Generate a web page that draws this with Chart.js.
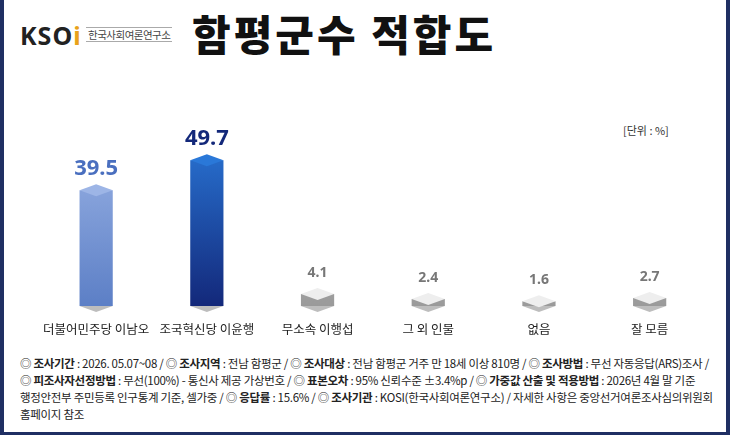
<!DOCTYPE html>
<html><head><meta charset="utf-8">
<script src="https://cdn.jsdelivr.net/npm/chart.js@4"></script>
<style>
body{margin:0;width:730px;height:435px;overflow:hidden;font-family:"Noto Sans CJK KR",sans-serif;background:#fff}
#frame{position:absolute;left:0;top:0;width:730px;height:435px;box-sizing:border-box;border-left:4px solid #1f2f63;border-right:4px solid #1f2f63;border-bottom:3px solid #1f2f63}
#logo{position:absolute;left:20px;top:18px;font-family:"Noto Sans";font-weight:700;font-size:25px;color:#222;letter-spacing:1px}
#logo span{color:#e8a21a}
#logosub{position:absolute;left:86px;top:27px;font-size:10.5px;color:#444;border-top:1px solid #aaa;border-bottom:1px solid #aaa;padding:0 2px;line-height:13px;letter-spacing:-0.5px}
#title{position:absolute;left:192px;top:2px;font-size:42px;font-weight:900;color:#111;letter-spacing:3px}
#unit{position:absolute;left:623px;top:122px;font-size:11px;color:#333}
#wrap{position:absolute;left:35px;top:130px;width:670px;height:215px}
#note{position:absolute;left:20px;top:355px;width:700px;font-size:11.5px;line-height:17px;color:#222;letter-spacing:-0.3px}
</style></head><body>
<div id="frame"></div>
<div id="logo">KSO<span>i</span></div>
<div id="logosub">한국사회여론연구소</div>
<div id="title">함평군수 적합도</div>
<div id="unit">[단위 : %]</div>
<div id="wrap"><canvas id="c"></canvas></div>
<div id="note">◎ <b>조사기간</b> : 2026. 05.07~08 / ◎ <b>조사지역</b> : 전남 함평군 / ◎ <b>조사대상</b> : 전남 함평군 거주 만 18세 이상 810명 / ◎ <b>조사방법</b> : 무선 자동응답(ARS)조사 /<br>◎ <b>피조사자선정방법</b> : 무선(100%) - 통신사 제공 가상번호 / ◎ <b>표본오차</b> : 95% 신뢰수준 ±3.4%p / ◎ <b>가중값 산출 및 적용방법</b> : 2026년 4월 말 기준<br>행정안전부 주민등록 인구통계 기준, 셀가중 / ◎ <b>응답률</b> : 15.6% / ◎ <b>조사기관</b> : KOSI(한국사회여론연구소) / 자세한 사항은 중앙선거여론조사심의위원회<br>홈페이지 참조</div>
<script>
const categories=["더불어민주당 이남오","조국혁신당 이윤행","무소속 이행섭","그 외 인물","없음","잘 모름"];
const values=[39.5,49.7,4.1,2.4,1.6,2.7];
const palette=[["#9db5e6","#5c7fc6"],["#2a78d8","#13287a"],["#d0d0d0","#9a9a9a"],["#d0d0d0","#9a9a9a"],["#d0d0d0","#9a9a9a"],["#d0d0d0","#9a9a9a"]];
const labelPlugin={id:"lbl",afterDatasetsDraw(ch){const ctx=ch.ctx;const m=ch.getDatasetMeta(0);
m.data.forEach((b,i)=>{const big=values[i]>10;ctx.save();ctx.textAlign="center";ctx.textBaseline="bottom";
ctx.font=(big?"bold 22px":"bold 14px")+" 'Noto Sans'";ctx.fillStyle=big?(i==0?"#4a6fbf":"#13287a"):"#777";
ctx.fillText(values[i].toFixed(1),b.x,b.y-(big?10:14));ctx.restore();});}};
const baseDiamond={id:"dia",beforeDatasetsDraw(ch){const ctx=ch.ctx;const m=ch.getDatasetMeta(0);const y0=ch.scales.y.getPixelForValue(0);
m.data.forEach((b,i)=>{const w=b.width/2;ctx.save();ctx.fillStyle="#bdbdbd";ctx.beginPath();ctx.moveTo(b.x-w,y0);ctx.lineTo(b.x,y0+6);ctx.lineTo(b.x+w,y0);ctx.lineTo(b.x,y0-6);ctx.closePath();ctx.fill();ctx.restore();});},
afterDatasetsDraw(ch){const ctx=ch.ctx;const m=ch.getDatasetMeta(0);m.data.forEach((b,i)=>{const w=b.width/2;ctx.save();ctx.fillStyle=values[i]>10?palette[i][0]:"#eeeeee";ctx.beginPath();ctx.moveTo(b.x-w,b.y);ctx.lineTo(b.x,b.y-6);ctx.lineTo(b.x+w,b.y);ctx.lineTo(b.x,b.y+6);ctx.closePath();ctx.fill();ctx.restore();});}};
new Chart(document.getElementById("c"),{type:"bar",
data:{labels:categories,datasets:[{data:values,barPercentage:0.3,categoryPercentage:1,
backgroundColor:(c)=>{const ch=c.chart;const a=ch.chartArea;if(!a)return"#999";const g=ch.ctx.createLinearGradient(0,a.top,0,a.bottom);const p=palette[c.dataIndex];g.addColorStop(0,p[0]);g.addColorStop(1,p[1]);return g;}}]},
options:{responsive:true,maintainAspectRatio:false,animation:false,layout:{padding:{top:0,bottom:0}},
plugins:{legend:{display:false},tooltip:{enabled:false}},
scales:{y:{display:false,min:0,max:60},x:{grid:{display:false},border:{display:false},ticks:{color:"#222",maxRotation:0,minRotation:0,autoSkip:false,font:{size:12.5,family:"'Noto Sans CJK KR'"},padding:8}}}},
plugins:[baseDiamond,labelPlugin]});
</script></body></html>
